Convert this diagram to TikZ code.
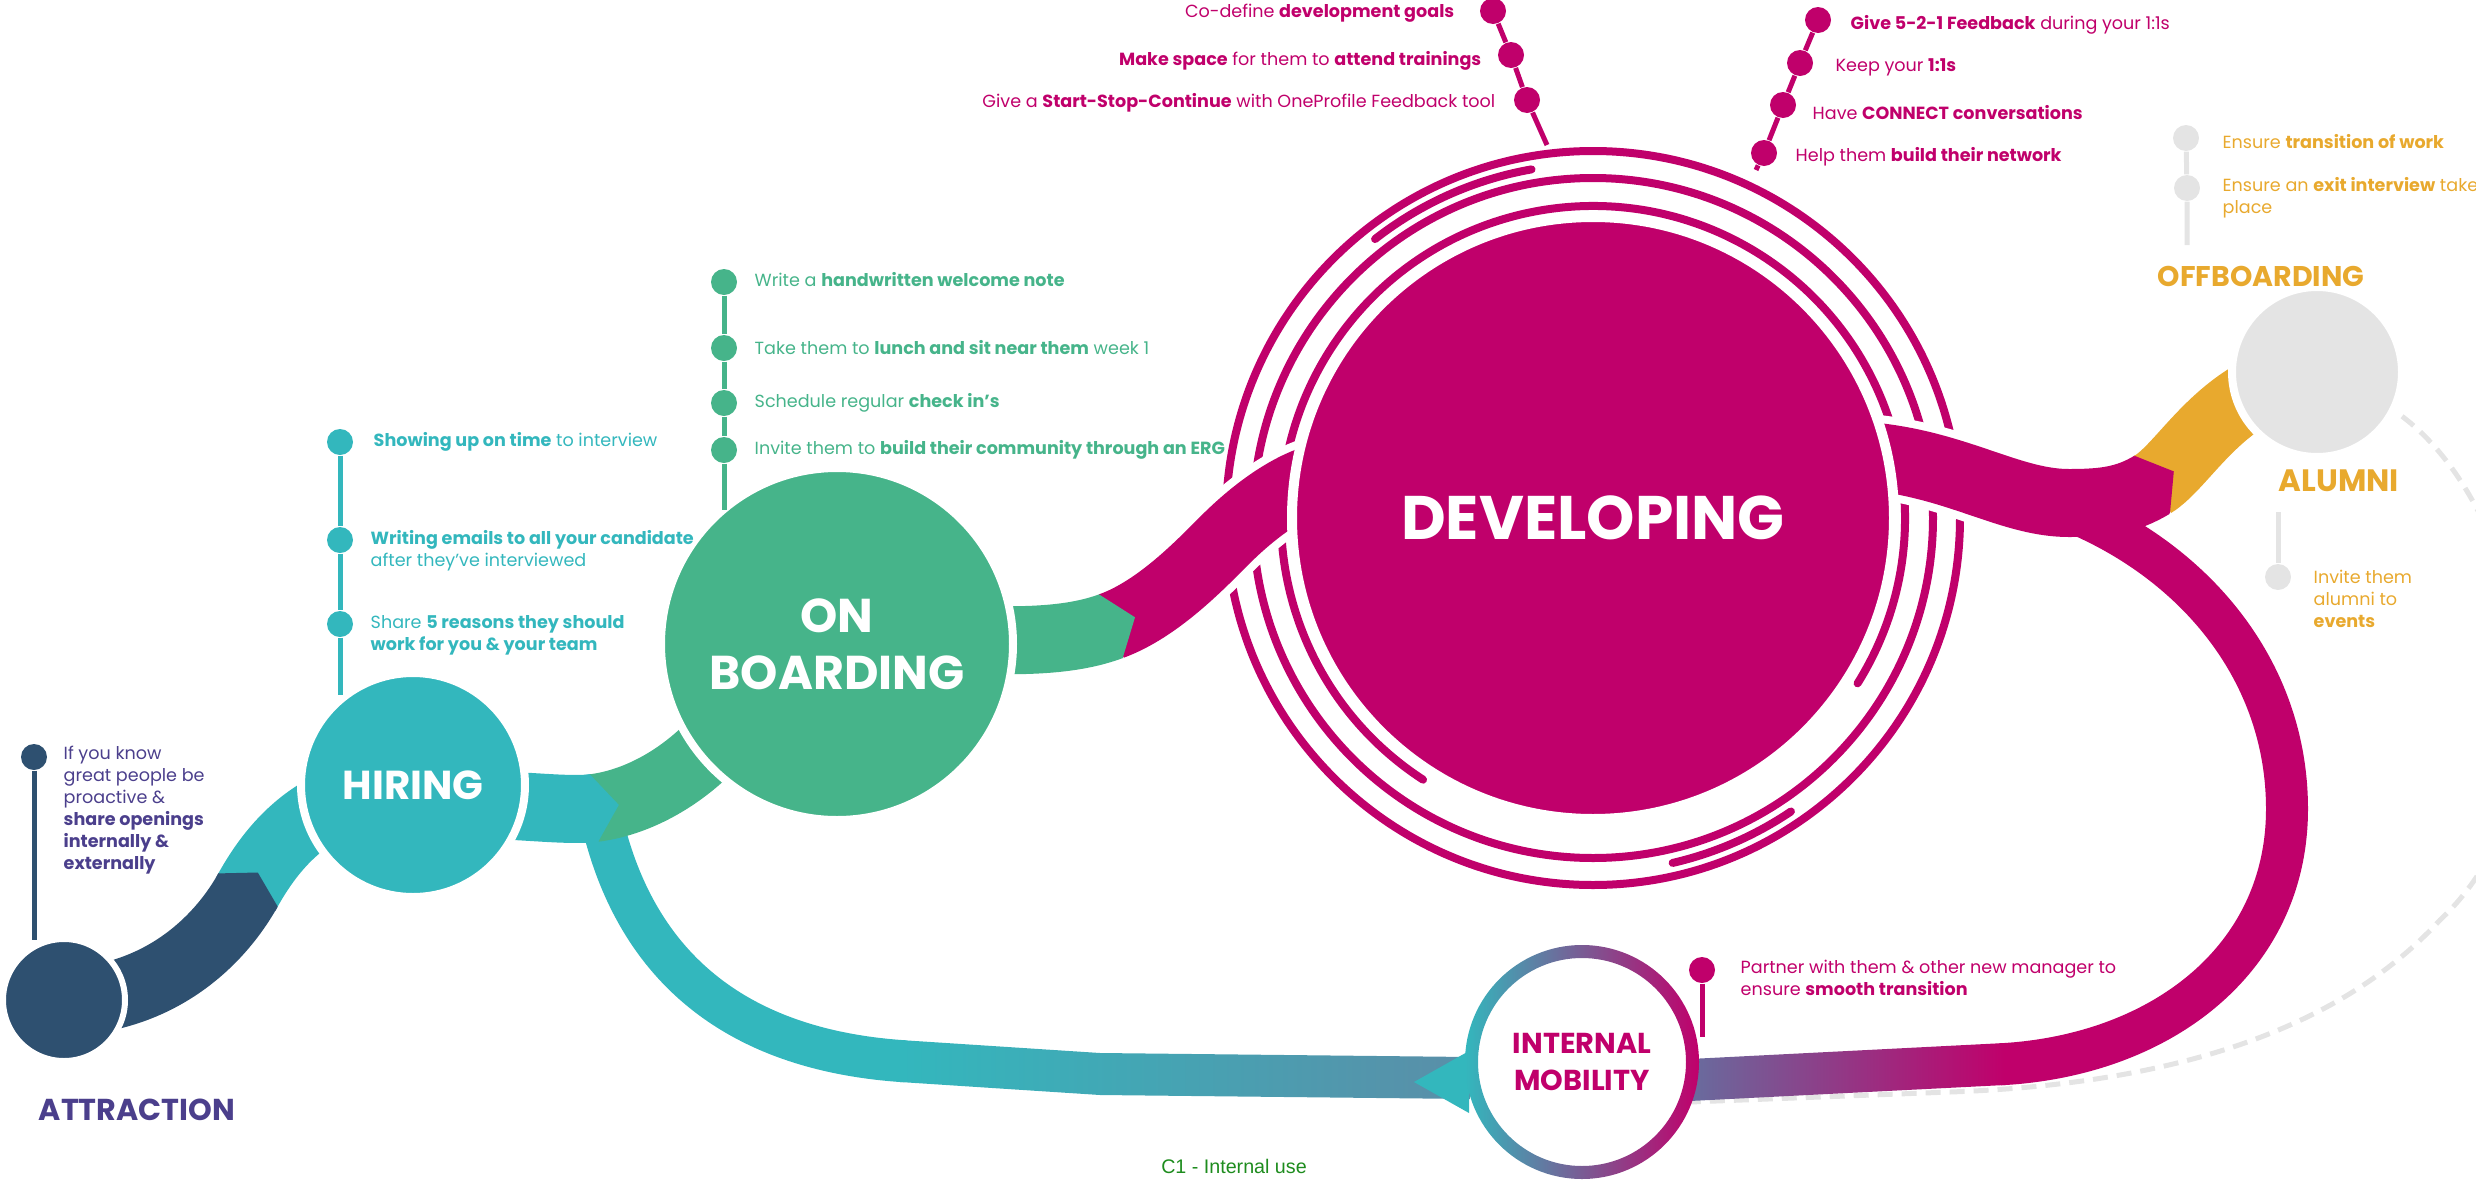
\documentclass[tikz,border=0pt]{standalone}
\usepackage{fontspec}
\setmainfont{Poppins}
\newfontfamily\arialfont{Liberation Sans}

\definecolor{attrnavy}{HTML}{2E5070}
\definecolor{lilac}{HTML}{4B3F8C}
\definecolor{hireteal}{HTML}{33B7BD}
\definecolor{boardgreen}{HTML}{46B48A}
\definecolor{devmagenta}{HTML}{C0006B}
\definecolor{offgold}{HTML}{E8A92E}
\definecolor{alumgray}{HTML}{E4E4E4}
\definecolor{slate}{HTML}{5A8EA8}
\definecolor{mobviolet}{HTML}{686C9E}
\definecolor{cgreen}{HTML}{1E8C1E}

\pgfdeclarelayer{backdrop}
\pgfdeclarelayer{bands}
\pgfsetlayers{backdrop,bands,main}

\newcommand\notesize{\fontsize{5pt}{6.3pt}\selectfont}

\tikzset{
  stage/.style={circle, draw=white, line width=0.8mm, inner sep=0pt, text=white},
  dot/.style={circle, fill=#1, inner sep=0pt, minimum size=2.6mm},
  stem/.style={line width=0.5mm},
  band/.style={line width=6.8mm},
  thinband/.style={line width=4.2mm},
  casing/.style={white, line width=8.4mm},
  ring/.style={devmagenta, line width=0.8mm, line cap=round},
  note/.style={inner sep=0pt, align=left, font=\notesize},
  backpath/.style={alumgray, line width=0.5mm, dash pattern=on 1.5mm off 0.9mm}
}

\begin{document}
\begin{tikzpicture}[x=0.1mm, y=-0.1mm]
  \useasboundingbox (0,0) rectangle (2476,1182);

  \node[stage, fill=attrnavy, line width=0.6mm, minimum size=12.2mm] (attraction) at (64,1000) {};
  \node[stage, fill=hireteal, minimum size=22.4mm, font=\bfseries\fontsize{11.5pt}{12pt}\selectfont] (hiring) at (413,785) {HIRING};
  \node[stage, fill=boardgreen, minimum size=35.2mm, align=center, font=\bfseries\fontsize{13.5pt}{16.2pt}\selectfont] (onboarding) at (837,644) {ON\\BOARDING};
  \node[stage, fill=devmagenta, line width=1mm, minimum size=60.2mm, font=\bfseries\fontsize{17.5pt}{18pt}\selectfont] (developing) at (1593,518) {DEVELOPING};
  \node[stage, fill=alumgray, minimum size=17mm] (alumni) at (2317,372) {};
  \node[circle, fill=white, inner sep=0pt, minimum size=20.8mm, align=center, text=devmagenta, font=\bfseries\fontsize{8.2pt}{10.5pt}\selectfont] (mobility) at (1582,1062) {INTERNAL\\MOBILITY};
  \shade[left color=hireteal, right color=devmagenta, even odd rule] (mobility.center) circle[radius=117] circle[radius=104];

  \node[font=\bfseries\fontsize{8.6pt}{10pt}\selectfont, text=lilac] (attrname) at (137,1110) {ATTRACTION};
  \node[font=\bfseries\fontsize{8.1pt}{10pt}\selectfont, text=offgold] (offname) at (2261,276) {OFFBOARDING};
  \node[font=\bfseries\fontsize{8.8pt}{10pt}\selectfont, text=offgold] (alumname) at (2339,481) {ALUMNI};
  \node[font=\arialfont\fontsize{5.6pt}{6pt}\selectfont, text=cgreen] (usage) at (1234,1166) {C1 - Internal use};

  \coordinate (attrchev) at (248,890);
  \coordinate (hirechev) at (594,808);
  \coordinate (boardchev) at (1111.5,626);
  \coordinate (devchev) at (2152.5,484.5);
  \coordinate (hirefork) at (600,812);
  \coordinate (devfork) at (2040,500);

  \begin{pgfonlayer}{backdrop}
    \draw[backpath] (alumni.center) -- (2390,408) .. controls (2520,490) and (2590,780) .. (2440,920) .. controls (2330,1040) and (2150,1085) .. (1950,1092) -- (1690,1102) -- (mobility.center);
    \draw[ring] ([shift={(32:312)}]developing.center) arc[start angle=32, end angle=-237, radius=312];
    \draw[ring] (developing.center) circle[radius=340];
    \draw[ring] (developing.center) circle[radius=367];
    \draw[ring] ([shift={(-100:354)}]developing.center) arc[start angle=-100, end angle=-128, radius=354];
    \draw[ring] ([shift={(56:354)}]developing.center) arc[start angle=56, end angle=77, radius=354];
  \end{pgfonlayer}

  \begin{pgfonlayer}{bands}
    \draw[casing] (boardchev) .. controls (1158,609) and (1200,565) .. (1225,540) .. controls (1250,515) and (1290,482) .. (1330,475);
    \draw[casing] (1820,455) .. controls (1940,450) and (2000,503) .. (2069,503);

    \draw[thinband, devmagenta] (devfork) .. controls (2180,545) and (2287,660) .. (2287,809) .. controls (2287,960) and (2160,1056) .. (2000,1064.3);
    \shade[left color=mobviolet, right color=devmagenta] (2005,1043) -- (1690,1059) -- (1690,1101) -- (2005,1085) -- cycle;
    \draw[thinband, hireteal] (hirefork) .. controls (625,930) and (700,1048) .. (905,1061.3);
    \shade[left color=hireteal, right color=slate] (900,1040) -- (1100,1053) -- (1470,1057) -- (1470,1099) -- (1100,1095) -- (900,1082) -- cycle;
    \fill[hireteal] (1414,1082) -- (1469,1051) -- (1469,1113) -- cycle;

    \draw[band, attrnavy] (attraction.center) -- (100,998) .. controls (170,985) and (220,940) .. (attrchev);
    \draw[band, hireteal] (attrchev) .. controls (276,840) and (320,790) .. (hiring.center);
    \fill[attrnavy] (215.9,877.8) -- (218.3,873.4) -- (257.8,872.5) -- (277.7,906.6) -- (275.3,911) -- cycle;

    \draw[band, hireteal] (hiring.center) -- (490,805) .. controls (530,806) and (570,811) .. (hirechev);
    \draw[band, boardgreen] (hirechev) .. controls (630,803.5) and (670,785) .. (705,752) -- (onboarding.center);
    \fill[hireteal] (584.8,774.9) -- (589.8,774.3) -- (618.8,804.9) -- (598.2,841.7) -- (593.2,842.3) -- cycle;

    \draw[band, boardgreen] (onboarding.center) -- (980,640) .. controls (1030,641) and (1074,640) .. (boardchev);
    \draw[band, devmagenta] (boardchev) .. controls (1158,609) and (1200,565) .. (1225,540) .. controls (1250,515) and (1290,482) .. (1330,475) -- (developing.center);
    \fill[boardgreen] (1095.3,596.7) -- (1100,595) -- (1135,617.3) -- (1123,657) -- (1118.3,658.7) -- cycle;

    \draw[band, devmagenta] (developing.center) -- (1820,455) .. controls (1940,450) and (2000,503) .. (2069,503) .. controls (2105,503) and (2127,500) .. (devchev);
    \draw[band, offgold] (devchev) .. controls (2187,463.6) and (2222,385) .. (alumni.center);
    \fill[devmagenta] (2130.7,458.6) -- (2135,456) -- (2173.8,471.4) -- (2170,513) -- (2165.7,515.6) -- cycle;
  \end{pgfonlayer}

  \node[dot=attrnavy] (attr1) at (34,757) {};
  \coordinate (attrfoot) at (34,940);
  \draw[stem, attrnavy] (attr1) -- (attrfoot);
  \node[note, anchor=west, text=lilac] (attrnote) at (63,810) {If you know\\great people be\\proactive \&\\\textbf{share openings}\\\textbf{internally \&}\\\textbf{externally}};

  \node[dot=hireteal] (hire1) at (340,442) {};
  \node[dot=hireteal] (hire2) at (340,540) {};
  \node[dot=hireteal] (hire3) at (340,624) {};
  \coordinate (hirefoot) at (340,695);
  \draw[stem, hireteal] (hire1) -- (hire2) -- (hire3) -- (hirefoot);
  \node[note, anchor=west, text=hireteal] (hirenote1) at (373,442) {\textbf{Showing up on time} to interview};
  \node[note, anchor=west, text=hireteal] (hirenote2) at (370,551) {\textbf{Writing emails to all your candidate}\\after they’ve interviewed};
  \node[note, anchor=west, text=hireteal] (hirenote3) at (370,635) {Share \textbf{5 reasons they should}\\\textbf{work for you \& your team}};

  \node[dot=boardgreen] (board1) at (724,282) {};
  \node[dot=boardgreen] (board2) at (724,348) {};
  \node[dot=boardgreen] (board3) at (724,403) {};
  \node[dot=boardgreen] (board4) at (724,450) {};
  \coordinate (boardfoot) at (724,510);
  \draw[stem, boardgreen] (board1) -- (board2) -- (board3) -- (board4) -- (boardfoot);
  \node[note, anchor=west, text=boardgreen] (boardnote1) at (754,280) {Write a \textbf{handwritten welcome note}};
  \node[note, anchor=west, text=boardgreen] (boardnote2) at (754,348) {Take them to \textbf{lunch and sit near them} week 1};
  \node[note, anchor=west, text=boardgreen] (boardnote3) at (754,403) {Schedule regular \textbf{check in’s}};
  \node[note, anchor=west, text=boardgreen] (boardnote4) at (754,450) {Invite them to \textbf{build their community through an ERG}};

  \node[dot=devmagenta] (devl1) at (1493,11) {};
  \node[dot=devmagenta] (devl2) at (1511,55) {};
  \node[dot=devmagenta] (devl3) at (1527,100) {};
  \coordinate (devlfoot) at (1547,145);
  \draw[stem, devmagenta] (devl1) -- (devl2) -- (devl3) -- (devlfoot);
  \node[note, anchor=east, text=devmagenta] (devlnote1) at (1455,13) {Co-define \textbf{development goals}};
  \node[note, anchor=east, text=devmagenta] (devlnote2) at (1482,61) {\textbf{Make space} for them to \textbf{attend trainings}};
  \node[note, anchor=east, text=devmagenta] (devlnote3) at (1496,103) {Give a \textbf{Start-Stop-Continue} with OneProfile Feedback tool};

  \node[dot=devmagenta] (devr1) at (1818,20) {};
  \node[dot=devmagenta] (devr2) at (1800,63) {};
  \node[dot=devmagenta] (devr3) at (1783,105) {};
  \node[dot=devmagenta] (devr4) at (1764,153) {};
  \coordinate (devrfoot) at (1756,170);
  \draw[stem, devmagenta] (devr1) -- (devr2) -- (devr3) -- (devr4) -- (devrfoot);
  \node[note, anchor=west, text=devmagenta] (devrnote1) at (1850,25) {\textbf{Give 5-2-1 Feedback} during your 1:1s};
  \node[note, anchor=west, text=devmagenta] (devrnote2) at (1835,67) {Keep your \textbf{1:1s}};
  \node[note, anchor=west, text=devmagenta] (devrnote3) at (1812,113) {Have \textbf{CONNECT conversations}};
  \node[note, anchor=west, text=devmagenta] (devrnote4) at (1795,157) {Help them \textbf{build their network}};

  \node[dot=alumgray] (off1) at (2186,138) {};
  \node[dot=alumgray] (off2) at (2187,188) {};
  \coordinate (offfoot) at (2187,245);
  \draw[stem, alumgray] (off1) -- (off2) -- (offfoot);
  \node[note, anchor=west, text=offgold] (offnote1) at (2222,142) {Ensure \textbf{transition of work}};
  \node[note, anchor=west, text=offgold] (offnote2) at (2222,198) {Ensure an \textbf{exit interview} takes\\place};

  \coordinate (alumtop) at (2278,512);
  \node[dot=alumgray] (alum1) at (2278,577) {};
  \draw[stem, alumgray] (alumtop) -- (alum1);
  \node[note, anchor=west, text=offgold] (alumnote) at (2313,599) {Invite them\\alumni to\\\textbf{events}};

  \node[dot=devmagenta] (mob1) at (1702,970) {};
  \coordinate (mobfoot) at (1702,1037);
  \draw[stem, devmagenta] (mob1) -- (mobfoot);
  \node[note, anchor=west, text=devmagenta] (mobnote) at (1740,978) {Partner with them \& other new manager to\\ensure \textbf{smooth transition}};
\end{tikzpicture}
\end{document}
